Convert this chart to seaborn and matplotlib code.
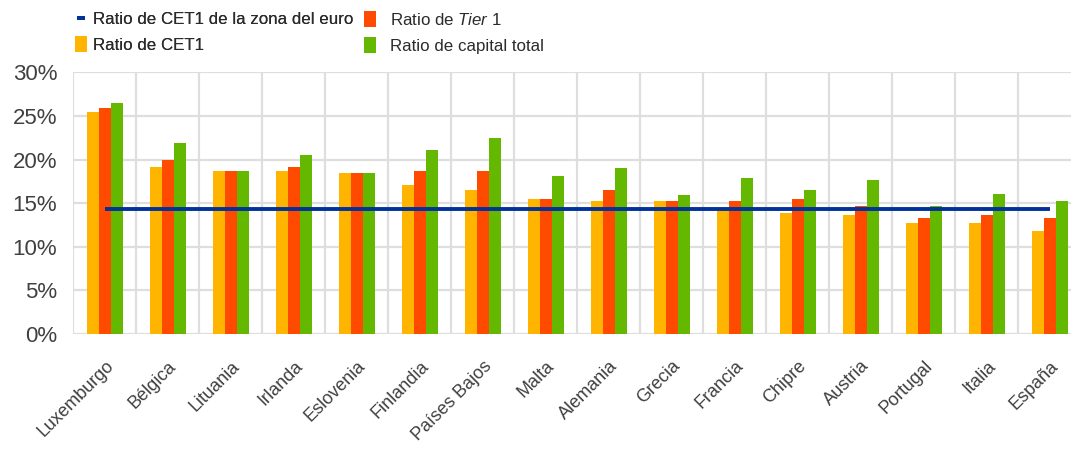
import numpy as np
import pandas as pd
import matplotlib
matplotlib.use("Agg")
import matplotlib.pyplot as plt
import seaborn as sns
from matplotlib.lines import Line2D

countries = ["Luxemburgo", "Bélgica", "Lituania", "Irlanda", "Eslovenia", "Finlandia",
             "Países Bajos", "Malta", "Alemania", "Grecia", "Francia", "Chipre",
             "Austria", "Portugal", "Italia", "España"]
cet1 = [25.5, 19.1, 18.7, 18.7, 18.45, 17.1, 16.5, 15.5, 15.25, 15.25, 14.2, 13.9,
        13.65, 12.7, 12.7, 11.85]
tier1 = [25.9, 19.9, 18.7, 19.1, 18.45, 18.7, 18.7, 15.5, 16.5, 15.25, 15.25, 15.5,
         14.7, 13.3, 13.65, 13.3]
total = [26.5, 21.9, 18.7, 20.5, 18.45, 21.1, 22.5, 18.1, 19.05, 15.9, 17.85, 16.5,
         17.65, 14.7, 16.1, 15.3]
euro_cet1 = 14.3
yticks = [0, 5, 10, 15, 20, 25, 30]
ytick_labels = ["0%", "5%", "10%", "15%", "20%", "25%", "30%"]

series_names = ["Ratio de CET1", "Ratio de Tier 1", "Ratio de capital total"]
euro_name = "Ratio de CET1 de la zona del euro"
colors = {"Ratio de CET1": "#FFB400", "Ratio de Tier 1": "#FF4B00",
          "Ratio de capital total": "#65B800"}
blue = "#003299"

df = pd.DataFrame({
    "pais": countries * 3,
    "serie": [series_names[0]] * 16 + [series_names[1]] * 16 + [series_names[2]] * 16,
    "valor": cet1 + tier1 + total,
})

sns.set_theme(style="white")
plt.rcParams["font.family"] = ["Liberation Sans", "DejaVu Sans"]
plt.rcParams["mathtext.fontset"] = "custom"
plt.rcParams["mathtext.rm"] = "Liberation Sans"
plt.rcParams["mathtext.it"] = "Liberation Sans:italic"

W, H = 1071, 450
fig = plt.figure(figsize=(W / 100, H / 100), dpi=100)
left_px, right_px, top_px, bot_px = 73.3, 1081.3, 72.3, 334.0
ax = fig.add_axes([left_px / W, 1 - bot_px / H, (right_px - left_px) / W, (bot_px - top_px) / H])

sns.barplot(data=df, x="pais", y="valor", hue="serie", hue_order=series_names,
            palette=colors, width=0.58, gap=0, saturation=1, linewidth=0,
            legend=False, ax=ax, zorder=3)

pos = np.arange(len(countries))
ax.plot(pos, [euro_cet1] * len(countries), color=blue, lw=2.8, zorder=5,
        solid_capstyle="butt")

ax.set_xlim(-0.5, len(countries) - 0.5)
ax.set_ylim(0, 30)
ax.set_yticks(yticks)
ax.set_yticklabels(ytick_labels)
ax.set_xticks(pos)
ax.set_xticklabels(countries, rotation=45, ha="right", rotation_mode="anchor")
ax.set_xticks(np.arange(-0.5, len(countries), 1), minor=True)
ax.set_xlabel("")
ax.set_ylabel("")

grid_c = "#dedede"
ax.grid(False)
ax.yaxis.grid(True, which="major", color=grid_c, lw=1.6, zorder=0)
ax.xaxis.grid(True, which="minor", color=grid_c, lw=1.6, zorder=0)
ax.set_axisbelow(True)
for s in ax.spines.values():
    s.set_visible(False)

ax.tick_params(axis="x", which="both", length=0, pad=17, labelsize=13, labelcolor="#404040")
ax.tick_params(axis="y", which="both", length=0, pad=11.5, labelsize=16, labelcolor="#404040")

# Legend (two columns)
fs = 12.2
def rect_marker(w, h):
    return [(-w / 2, -h / 2), (w / 2, -h / 2), (w / 2, h / 2), (-w / 2, h / 2), (-w / 2, -h / 2)]

h_blue = Line2D([], [], linestyle="none", marker=rect_marker(1.0, 0.5), markersize=5.8,
                markerfacecolor=blue, markeredgewidth=0)
h_cet1 = Line2D([], [], linestyle="none", marker=rect_marker(0.75, 1.0), markersize=11.5,
                markerfacecolor=colors[series_names[0]], markeredgewidth=0)
h_t1 = Line2D([], [], linestyle="none", marker=rect_marker(0.75, 1.0), markersize=11.5,
              markerfacecolor=colors[series_names[1]], markeredgewidth=0)
h_tot = Line2D([], [], linestyle="none", marker=rect_marker(0.75, 1.0), markersize=11.5,
               markerfacecolor=colors[series_names[2]], markeredgewidth=0)

leg1 = fig.legend([h_blue, h_cet1], [euro_name, series_names[0]], loc="upper left",
                  bbox_to_anchor=(74 / W, 1 - 12 / H), frameon=False, fontsize=fs,
                  handlelength=0.8, handletextpad=0.35, labelspacing=0.62, borderpad=0,
                  borderaxespad=0, labelcolor="#2b2b2b")
leg2 = fig.legend([h_t1, h_tot], ["Ratio de $\\it{Tier}$ 1", series_names[2]], loc="upper left",
                  bbox_to_anchor=(363 / W, 1 - 12 / H), frameon=False, fontsize=fs,
                  handlelength=0.8, handletextpad=0.78, labelspacing=0.62, borderpad=0,
                  borderaxespad=0, labelcolor="#2b2b2b")
fig.add_artist(leg1)

fig.savefig("out.png", dpi=100)
